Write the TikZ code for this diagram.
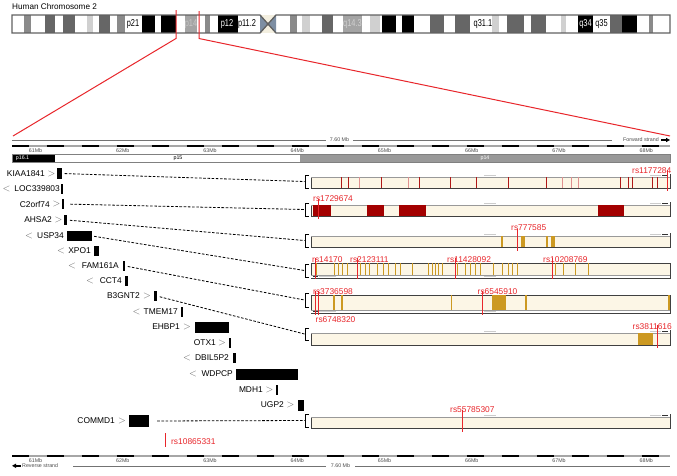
\documentclass[tikz,border=0pt]{standalone}
\usepackage{fontspec}
\setmainfont{Liberation Sans}
\usepackage{graphicx}
\newcommand\myfs[1]{\fontsize{#1}{#1}\selectfont}
\newcommand\chtxt[1]{\scalebox{0.74}[1]{#1}}
\definecolor{snpred}{HTML}{E8262B}
\definecolor{cream}{HTML}{FCF6E6}
\definecolor{gold}{HTML}{CC9922}
\definecolor{dred}{HTML}{A30000}
\definecolor{trred}{HTML}{B01818}
\definecolor{pinkl}{HTML}{E09090}
\definecolor{cg}{HTML}{8A8A8A}
\definecolor{cdg}{HTML}{666666}
\definecolor{clg}{HTML}{D0D0D0}
\definecolor{cmg}{HTML}{A4A4A4}
\definecolor{cenb}{HTML}{7D8EA3}
\definecolor{cenc}{HTML}{F3EFE0}
\begin{document}
\begin{tikzpicture}[x=1pt,y=-1pt,
  gname/.style={font=\myfs{8.4}, inner sep=0pt, anchor=east},
  garr/.style={font=\myfs{10}, inner sep=0pt, text=black!60},
  gbox/.style={fill=black, inner sep=0pt, draw=none},
  snp/.style={draw=snpred, line width=0.9pt},
  snpt/.style={text=snpred, font=\myfs{8.4}, inner sep=0pt},
  trk/.style={draw=black!75, fill=cream, line width=0.7pt},
  brk/.style={line width=0.9pt},
  dsh/.style={dash pattern=on 2.6pt off 1.6pt, line width=0.8pt},
  tinyt/.style={font=\myfs{5.3}, inner sep=0pt, text=black!70},
  chl/.style={font=\myfs{10}, inner sep=0pt},
  bandl/.style={font=\myfs{5.3}, inner sep=0pt}]
\useasboundingbox (0,0) rectangle (677,475);
\fill[white] (0,0) rectangle (677,475);

% ---------- chromosome ----------
\node[font=\myfs{8.2}, inner sep=0pt, anchor=west] (title) at (12,6.5) {Human Chromosome 2};
\foreach \a/\b/\c in {12/24/white, 24/31/cg, 31/45/white, 45/55/cdg, 55/63/white, 63/75/cdg, 75/87/white, 87/93/clg, 93/99/white, 99/110/cdg, 110/117/white, 117/125/cg, 125/142/white, 142/155/black, 155/161/white, 161/176/black, 176/185/white, 185/197/cmg, 197/205/white, 205/210/cg, 210/218/white, 218/238/black, 238/260/white,
 276/290/white, 290/297/cg, 297/302/white, 302/310/clg, 310/322/white, 322/333/cdg, 333/343/white, 343/362/cmg, 362/370/white, 370/380/clg, 380/382/white, 382/396/black, 396/402/white, 402/414/black, 414/430/white, 430/444/cdg, 444/455/white, 455/470/cdg, 470/492/white, 492/499/clg, 499/507/white, 507/524/cdg, 524/531/white, 531/546/cdg, 546/561/white, 561/566/clg, 566/578/white, 578/593/black, 593/610/white, 610/622/cdg, 622/637/black, 637/649/white, 649/653/cg, 653/670/white}
  \fill[\c] (\a,15) rectangle (\b,33);
\fill[cenc] (260,15) rectangle (276,33);
\fill[cenb] (260,15) -- (268,24) -- (260,33) -- cycle;
\fill[cenb] (276,15) -- (268,24) -- (276,33) -- cycle;
\draw[draw=black!62, line width=1.3pt, line join=miter] (12,15) -- (260,15) -- (268,24) -- (276,15) -- (670,15) -- (670,33) -- (276,33) -- (268,24) -- (260,33) -- (12,33) -- cycle;
\node[chl] (cp21) at (133,24) {\chtxt{p21}};
\node[chl, text=black!22] (cp14) at (191,24) {\chtxt{p14}};
\node[chl, text=white] (cp12) at (227,24) {\chtxt{p12}};
\node[chl] (cp112) at (247,24) {\chtxt{p11.2}};
\node[chl, text=black!18] (cq143) at (352.5,24) {\chtxt{q14.3}};
\node[chl] (cq311) at (483,24) {\chtxt{q31.1}};
\node[chl, text=white] (cq34) at (585.5,24) {\chtxt{q34}};
\node[chl] (cq35) at (601.5,24) {\chtxt{q35}};

% zoom lines
\draw[snpred, line width=1pt] (176,10) -- (176,38.5) -- (13,136);
\draw[snpred, line width=1pt] (199,11) -- (199,38.5) -- (670,136);

% ---------- top scale ----------
\draw[black!55, line width=0.5pt] (12,140) -- (326,140);
\draw[black!55, line width=0.5pt] (353,140) -- (612,140);
\node[tinyt] (topmb) at (339.5,140) {7.60 Mb};
\node[tinyt, anchor=east] (fwd) at (659,140) {Forward strand};
\fill[black] (661,139) rectangle (666,141);
\fill[black] (666,137.8) -- (670,140) -- (666,142.2) -- cycle;

\draw[black!35, line width=1.4pt] (12,146) -- (670,146);
\foreach \k in {0,...,18}{
  \pgfmathsetmacro\sa{max(12,11.7+35*\k)}
  \pgfmathsetmacro\sb{min(670,29.2+35*\k)}
  \draw[black, line width=2pt] (\sa,146) -- (\sb,146);
}
\foreach \m [count=\i from 0] in {61,...,68}
  \node[tinyt] at ({35.5+87.25*\i},150.6) {\m Mb};

% band bar
\fill[black] (12,154) rectangle (55,162.5);
\fill[white] (55,154) rectangle (300,162.5);
\fill[black!40] (300,154) rectangle (670,162.5);
\draw[black!50, line width=0.5pt] (12,154) rectangle (670,162.5);
\node[bandl, text=white] (b161) at (22.5,158.3) {p16.1};
\node[bandl] (b15) at (178,158.3) {p15};
\node[bandl, text=white] (b14) at (485,158.3) {p14};

% ---------- genes ----------
\node[gname] (n1) at (45,174) {KIAA1841};
\node[garr] (a1) at (51.5,173.5) {$>$};
\node[gbox, minimum width=5pt, minimum height=11pt] (g1) at (59.5,173.5) {};

\node[garr] (a2) at (6.5,189) {$<$};
\node[gname] (n2) at (60,189) {LOC339803};
\node[gbox, minimum width=2.2pt, minimum height=10pt] (g2) at (62,189) {};

\node[gname] (n3) at (50,204) {C2orf74};
\node[garr] (a3) at (56.5,203.5) {$>$};
\node[gbox, minimum width=2.2pt, minimum height=10pt] (g3) at (63,204) {};

\node[gname] (n4) at (52,220) {AHSA2};
\node[garr] (a4) at (58.5,219.5) {$>$};
\node[gbox, minimum width=2.2pt, minimum height=10pt] (g4) at (65.5,220) {};

\node[garr] (a5) at (29,235.5) {$<$};
\node[gname] (n5) at (64,236) {USP34};
\node[gbox, minimum width=25pt, minimum height=10pt] (g5) at (79.5,236) {};

\node[garr] (a6) at (61,250.5) {$<$};
\node[gname] (n6) at (91,251) {XPO1};
\node[gbox, minimum width=5pt, minimum height=10pt] (g6) at (96.5,251) {};

\node[garr] (a7) at (72,265.5) {$<$};
\node[gname] (n7) at (119,266) {FAM161A};
\node[gbox, minimum width=2.2pt, minimum height=10pt] (g7) at (124,266) {};

\node[garr] (a8) at (90,280.5) {$<$};
\node[gname] (n8) at (122,281) {CCT4};
\node[gbox, minimum width=2.2pt, minimum height=10pt] (g8) at (126.5,281) {};

\node[gname] (n9) at (140,296) {B3GNT2};
\node[garr] (a9) at (147,295.5) {$>$};
\node[gbox, minimum width=2.2pt, minimum height=10pt] (g9) at (155.5,296) {};

\node[garr] (a10) at (136.5,311.5) {$<$};
\node[gname] (n10) at (178,312) {TMEM17};
\node[gbox, minimum width=2.2pt, minimum height=10pt] (g10) at (182,312) {};

\node[gname] (n11) at (180,327) {EHBP1};
\node[garr] (a11) at (187,326.5) {$>$};
\node[gbox, minimum width=34pt, minimum height=11pt] (g11) at (212,327.5) {};

\node[gname] (n12) at (216,343) {OTX1};
\node[garr] (a12) at (222,342.5) {$>$};
\node[gbox, minimum width=2.2pt, minimum height=10pt] (g12) at (230,343) {};

\node[garr] (a13) at (187,357.5) {$<$};
\node[gname] (n13) at (229,358) {DBIL5P2};
\node[gbox, minimum width=2.2pt, minimum height=10pt] (g13) at (234.5,358) {};

\node[garr] (a14) at (193,373.5) {$<$};
\node[gname] (n14) at (233,374) {WDPCP};
\node[gbox, minimum width=62pt, minimum height=11pt] (g14) at (267,374.5) {};

\node[gname] (n15) at (263,390) {MDH1};
\node[garr] (a15) at (269.5,389.5) {$>$};
\node[gbox, minimum width=2.2pt, minimum height=10pt] (g15) at (277,390) {};

\node[gname] (n16) at (284,405) {UGP2};
\node[garr] (a16) at (290.5,404.5) {$>$};
\node[gbox, minimum width=6pt, minimum height=11pt] (g16) at (301,405.5) {};

\node[gname] (n17) at (115,421) {COMMD1};
\node[garr] (a17) at (122,420.5) {$>$};
\node[gbox, minimum width=20pt, minimum height=12pt] (g17) at (139,421) {};

% rs10865331
\draw[snp] (165,433) -- (165,447);
\node[snpt, anchor=base west] (s13) at (171,444.5) {rs10865331};

% ---------- tracks ----------
\foreach \ya/\yb in {174/188, 202/216, 233/247, 263/278, 295/313, 330/345, 414/428}
  \draw[trk] (311,\ya) rectangle (670,\yb);
% top headers
\foreach \ya in {174, 202, 233, 330, 414}{
  \fill[white] (311.4,\ya+0.4) rectangle (669.6,\ya+3);
  \draw[black!40, line width=0.3pt] (311,\ya+3) -- (670,\ya+3);
  \draw[black!20, line width=0.5pt] (484,\ya+1.7) -- (496,\ya+1.7);
  \draw[black!20, line width=0.5pt] (650,\ya+1.7) -- (661,\ya+1.7);
  \draw[black!80, line width=0.8pt] (662,\ya+1.7) -- (668,\ya+1.7);
}
% bottom headers
\foreach \yb in {278, 313}{
  \fill[white] (311.4,\yb-3) rectangle (669.6,\yb-0.4);
  \draw[black!40, line width=0.3pt] (311,\yb-3) -- (670,\yb-3);
  \draw[black!80, line width=0.8pt] (313,\yb-1.7) -- (318,\yb-1.7);
  \draw[black!20, line width=0.5pt] (319,\yb-1.7) -- (336,\yb-1.7);
  \draw[black!20, line width=0.5pt] (484,\yb-1.7) -- (496,\yb-1.7);
}

% brackets and connector ends
\foreach \i/\ya/\yb in {1/175/188, 2/203/216, 3/234/247, 4/264/277, 5/293/307, 6/328/340, 7/414/427}{
  \draw[brk] (309,\ya) -- (305.5,\ya) -- (305.5,\yb) -- (309,\yb);
  \coordinate (b\i) at (304.5,{(\ya+\yb)/2});
}

% dashed connectors
\draw[dsh, shorten <=2.5pt] (g1.east) -- (b1);
\draw[dsh, shorten <=6pt] (g3.east) -- (b2);
\draw[dsh, shorten <=3pt] (g4.east) -- (b3);
\draw[dsh, shorten <=2pt] (g5.east) -- (b4);
\draw[dsh, shorten <=2.5pt] (g7.east) -- (b5);
\draw[dsh, shorten <=3pt] (g9.east) -- (b6);
\draw[dsh, shorten <=8pt] (g17.east) -- (b7);

% track 1
\foreach \x in {341,348,381,419,450,476,508,546,620,628,632,652,657}
  \draw[trred, line width=0.8pt] (\x,177.3) -- (\x,187.6);
\foreach \x in {359,408,562,571,578}
  \draw[pinkl, line width=0.6pt] (\x,177.3) -- (\x,187.6);
\draw[snp] (667,170) -- (667,191);
\node[snpt, anchor=base east] (s1) at (671.5,173) {rs1177284};

% track 2
\foreach \a/\b in {313/331, 367/384, 399/426, 598/624}
  \fill[dred] (\a,205.3) rectangle (\b,215.6);
\draw[snp] (318,199) -- (318,219);
\node[snpt, anchor=base west] (s2) at (313,201) {rs1729674};

% track 3
\foreach \a/\b in {501/503, 521/525, 546/548, 551/555}
  \fill[gold] (\a,236.3) rectangle (\b,246.6);
\draw[snp] (517,229) -- (517,251);
\node[snpt, anchor=base west] (s3) at (511,230.5) {rs777585};

% track 4
\foreach \x in {316,334,338,342,347,360,365,369,377,383,388,395,400,412,428,432,435,438,442,457,465,470,475,480,493,502,508,512,517,555,563,575,588}
  \draw[gold, line width=0.8pt] (\x,263.4) -- (\x,274.8);
\foreach \x in {315, 357, 455, 552}
  \draw[snp] (\x,258) -- (\x,279);
\node[snpt, anchor=base west] (s4) at (312,262.5) {rs14170};
\node[snpt, anchor=base west] (s5) at (350,262.5) {rs2123111};
\node[snpt, anchor=base west] (s6) at (447,262.5) {rs11428092};
\node[snpt, anchor=base west] (s7) at (543,262.5) {rs10208769};

% track 5
\foreach \a/\b in {333/335, 341/343, 492/506, 525/527, 668/669.6}
  \fill[gold] (\a,295.4) rectangle (\b,309.8);
\draw[gold, line width=0.8pt] (451,295.4) -- (451,309.8);
\draw[snp] (315,291) -- (315,315);
\draw[snp] (318,291) -- (318,315);
\draw[snp] (482,291) -- (482,315);
\node[snpt, anchor=base west] (s8) at (313,294.5) {rs3736598};
\node[snpt, anchor=base west] (s9) at (477.5,294.5) {rs6545910};
\node[snpt, anchor=base west] (s10) at (315.5,322.5) {rs6748320};

% track 6
\fill[gold] (638,333.4) rectangle (653,344.6);
\draw[snp] (657,325) -- (657,348);
\node[snpt, anchor=base east] (s11) at (672,329.5) {rs3811616};

% track 7
\draw[snp] (462,410) -- (462,432);
\node[snpt, anchor=base west] (s12) at (450,412) {rs55785307};

% ---------- bottom scale ----------
\draw[black!35, line width=1.4pt] (12,456) -- (670,456);
\foreach \k in {0,...,18}{
  \pgfmathsetmacro\sa{max(12,11.7+35*\k)}
  \pgfmathsetmacro\sb{min(670,29.2+35*\k)}
  \draw[black, line width=2pt] (\sa,456) -- (\sb,456);
}
\foreach \m [count=\i from 0] in {61,...,68}
  \node[tinyt] at ({35.5+87.25*\i},460.8) {\m Mb};
\fill[black] (12,465.8) -- (16,463.6) -- (16,468) -- cycle;
\fill[black] (16,464.8) rectangle (21,466.8);
\node[tinyt, anchor=west] (rev) at (22,465.8) {Reverse strand};
\draw[black!55, line width=0.5pt] (73,465.8) -- (326,465.8);
\node[tinyt] (botmb) at (340.5,465.8) {7.60 Mb};
\draw[black!55, line width=0.5pt] (355,465.8) -- (670,465.8);
\end{tikzpicture}
\end{document}
